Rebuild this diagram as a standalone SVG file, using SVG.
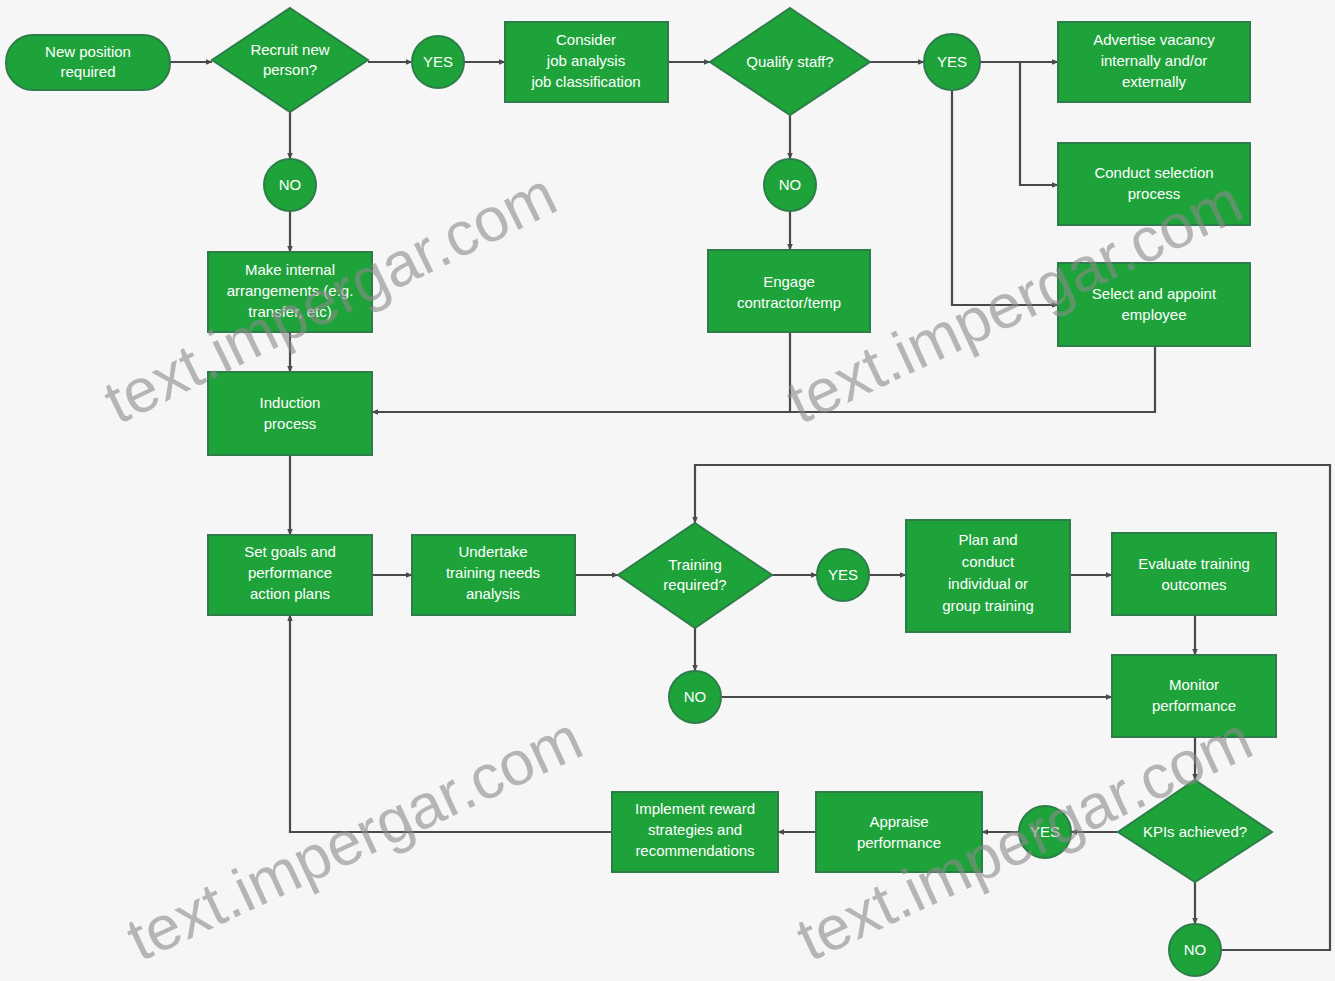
<svg xmlns="http://www.w3.org/2000/svg" width="1335" height="981" viewBox="0 0 1335 981">
<defs>
<marker id="arr" viewBox="0 0 10 10" refX="9" refY="5" markerWidth="7" markerHeight="7" orient="auto" markerUnits="userSpaceOnUse">
<path d="M0,1 L10,5 L0,9 z" fill="#4a4a4a"/>
</marker>
<style>
.n{fill:#1ea33a;stroke:#2d7d4a;stroke-width:2}
.t{fill:#ffffff;font-family:"Liberation Sans",Arial,sans-serif;font-size:15px;text-anchor:middle}
.c{fill:none;stroke:#4a4a4a;stroke-width:2.2}
.a{marker-end:url(#arr)}
.w{fill:#8a8a8a;fill-opacity:0.6;font-family:"Liberation Sans",Arial,sans-serif;font-size:62px}
</style>
</defs>
<rect width="1335" height="981" fill="#f6f6f6"/>

<g id="connectors">
<line class="c a" x1="170" y1="62" x2="212" y2="62"/>
<line class="c a" x1="368" y1="62" x2="412" y2="62"/>
<line class="c a" x1="464" y1="62" x2="505" y2="62"/>
<line class="c a" x1="668" y1="62" x2="710" y2="62"/>
<line class="c a" x1="870" y1="62" x2="924" y2="62"/>
<line class="c a" x1="980" y1="62" x2="1058" y2="62"/>
<path class="c a" d="M1020,62 V185 H1058"/>
<path class="c a" d="M952,90 V305 H1058"/>
<line class="c a" x1="290" y1="112" x2="290" y2="159"/>
<line class="c a" x1="290" y1="211" x2="290" y2="252"/>
<line class="c a" x1="290" y1="332" x2="290" y2="372"/>
<line class="c a" x1="790" y1="115" x2="790" y2="159"/>
<line class="c a" x1="790" y1="211" x2="790" y2="250"/>
<path class="c" d="M790,332 V412"/>
<path class="c a" d="M1155,346 V412 H372"/>
<line class="c a" x1="290" y1="455" x2="290" y2="535"/>
<line class="c a" x1="372" y1="575" x2="412" y2="575"/>
<line class="c a" x1="575" y1="575" x2="618" y2="575"/>
<line class="c a" x1="772" y1="575" x2="817" y2="575"/>
<line class="c a" x1="869" y1="575" x2="906" y2="575"/>
<line class="c a" x1="1070" y1="575" x2="1112" y2="575"/>
<line class="c a" x1="1195" y1="615" x2="1195" y2="655"/>
<line class="c a" x1="695" y1="628" x2="695" y2="671"/>
<line class="c a" x1="721" y1="697" x2="1112" y2="697"/>
<line class="c a" x1="1195" y1="737" x2="1195" y2="780"/>
<line class="c a" x1="1118" y1="832" x2="1071" y2="832"/>
<line class="c a" x1="1019" y1="832" x2="982" y2="832"/>
<line class="c a" x1="816" y1="832" x2="778" y2="832"/>
<path class="c a" d="M612,832 H290 V615"/>
<line class="c a" x1="1195" y1="882" x2="1195" y2="924"/>
<path class="c a" d="M1221,950 H1330 V465 H695 V523"/>
</g>

<g id="n-new-position">
<rect class="n" x="6" y="35" width="164" height="55" rx="27"/>
<text class="t" x="88" y="57">New position</text>
<text class="t" x="88" y="77">required</text>
</g>
<g id="n-recruit">
<polygon class="n" points="290,8 368,60 290,112 212,60"/>
<text class="t" x="290" y="55">Recruit new</text>
<text class="t" x="290" y="75">person?</text>
</g>
<g id="n-yes1">
<circle class="n" cx="438" cy="62" r="26"/>
<text class="t" x="438" y="67">YES</text>
</g>
<g id="n-consider">
<rect class="n" x="505" y="22" width="163" height="80"/>
<text class="t" x="586" y="45">Consider</text>
<text class="t" x="586" y="66">job analysis</text>
<text class="t" x="586" y="87">job classification</text>
</g>
<g id="n-qualify">
<polygon class="n" points="790,8 870,62 790,115 710,62"/>
<text class="t" x="790" y="67">Qualify staff?</text>
</g>
<g id="n-yes2">
<circle class="n" cx="952" cy="62" r="28"/>
<text class="t" x="952" y="67">YES</text>
</g>
<g id="n-advertise">
<rect class="n" x="1058" y="22" width="192" height="80"/>
<text class="t" x="1154" y="45">Advertise vacancy</text>
<text class="t" x="1154" y="66">internally and/or</text>
<text class="t" x="1154" y="87">externally</text>
</g>
<g id="n-conduct">
<rect class="n" x="1058" y="143" width="192" height="82"/>
<text class="t" x="1154" y="178">Conduct selection</text>
<text class="t" x="1154" y="199">process</text>
</g>
<g id="n-select">
<rect class="n" x="1058" y="263" width="192" height="83"/>
<text class="t" x="1154" y="299">Select and appoint</text>
<text class="t" x="1154" y="320">employee</text>
</g>
<g id="n-no1">
<circle class="n" cx="290" cy="185" r="26"/>
<text class="t" x="290" y="190">NO</text>
</g>
<g id="n-internal">
<rect class="n" x="208" y="252" width="164" height="80"/>
<text class="t" x="290" y="275">Make internal</text>
<text class="t" x="290" y="296">arrangements (e.g.</text>
<text class="t" x="290" y="317">transfer, etc)</text>
</g>
<g id="n-no2">
<circle class="n" cx="790" cy="185" r="26"/>
<text class="t" x="790" y="190">NO</text>
</g>
<g id="n-engage">
<rect class="n" x="708" y="250" width="162" height="82"/>
<text class="t" x="789" y="287">Engage</text>
<text class="t" x="789" y="308">contractor/temp</text>
</g>
<g id="n-induction">
<rect class="n" x="208" y="372" width="164" height="83"/>
<text class="t" x="290" y="408">Induction</text>
<text class="t" x="290" y="429">process</text>
</g>
<g id="n-setgoals">
<rect class="n" x="208" y="535" width="164" height="80"/>
<text class="t" x="290" y="557">Set goals and</text>
<text class="t" x="290" y="578">performance</text>
<text class="t" x="290" y="599">action plans</text>
</g>
<g id="n-undertake">
<rect class="n" x="412" y="535" width="163" height="80"/>
<text class="t" x="493" y="557">Undertake</text>
<text class="t" x="493" y="578">training needs</text>
<text class="t" x="493" y="599">analysis</text>
</g>
<g id="n-training">
<polygon class="n" points="695,523 772,575 695,628 618,575"/>
<text class="t" x="695" y="570">Training</text>
<text class="t" x="695" y="590">required?</text>
</g>
<g id="n-yes3">
<circle class="n" cx="843" cy="575" r="26"/>
<text class="t" x="843" y="580">YES</text>
</g>
<g id="n-plan">
<rect class="n" x="906" y="520" width="164" height="112"/>
<text class="t" x="988" y="545">Plan and</text>
<text class="t" x="988" y="567">conduct</text>
<text class="t" x="988" y="589">individual or</text>
<text class="t" x="988" y="611">group training</text>
</g>
<g id="n-evaluate">
<rect class="n" x="1112" y="533" width="164" height="82"/>
<text class="t" x="1194" y="569">Evaluate training</text>
<text class="t" x="1194" y="590">outcomes</text>
</g>
<g id="n-no3">
<circle class="n" cx="695" cy="697" r="26"/>
<text class="t" x="695" y="702">NO</text>
</g>
<g id="n-monitor">
<rect class="n" x="1112" y="655" width="164" height="82"/>
<text class="t" x="1194" y="690">Monitor</text>
<text class="t" x="1194" y="711">performance</text>
</g>
<g id="n-kpis">
<polygon class="n" points="1195,780 1272,832 1195,882 1118,832"/>
<text class="t" x="1195" y="837">KPIs achieved?</text>
</g>
<g id="n-yes4">
<circle class="n" cx="1045" cy="832" r="26"/>
<text class="t" x="1045" y="837">YES</text>
</g>
<g id="n-appraise">
<rect class="n" x="816" y="792" width="166" height="80"/>
<text class="t" x="899" y="827">Appraise</text>
<text class="t" x="899" y="848">performance</text>
</g>
<g id="n-implement">
<rect class="n" x="612" y="792" width="166" height="80"/>
<text class="t" x="695" y="814">Implement reward</text>
<text class="t" x="695" y="835">strategies and</text>
<text class="t" x="695" y="856">recommendations</text>
</g>
<g id="n-no4">
<circle class="n" cx="1195" cy="950" r="26"/>
<text class="t" x="1195" y="955">NO</text>
</g>

<g id="watermarks">
<text class="w" transform="translate(118,425) rotate(-26)">text.impergar.com</text>
<text class="w" transform="translate(800,425) rotate(-25)">text.impergar.com</text>
<text class="w" transform="translate(140,962) rotate(-25)">text.impergar.com</text>
<text class="w" transform="translate(810,962) rotate(-25)">text.impergar.com</text>
</g>
</svg>
